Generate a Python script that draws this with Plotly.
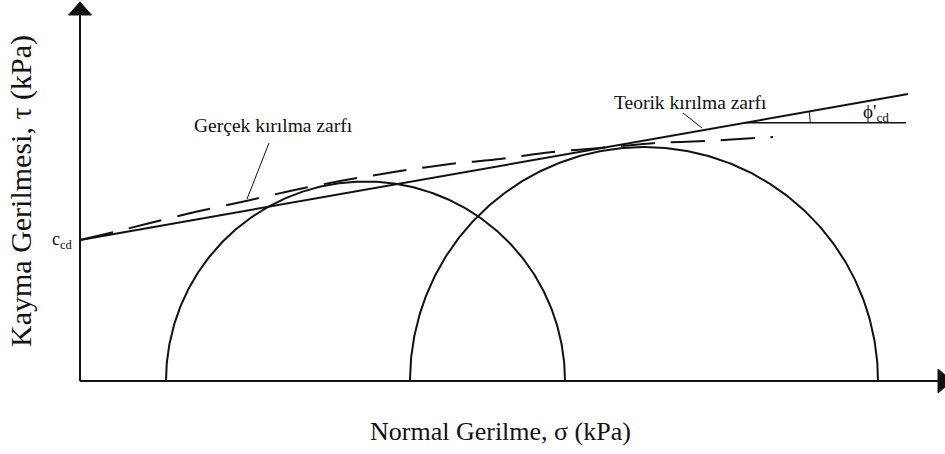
import numpy as np
import plotly.graph_objects as go

# Mohr circles (total stress at failure), in kPa
sigma3 = [86, 330]
sigma1 = [485, 798]

# Theoretical failure envelope: tau = c + sigma * tan(phi)
c_cd = 141
phi_cd_deg = 10.0
sigma_env_end = 828

# Actual (curved) failure envelope read point by point
real_sigma = [0, 30, 66, 115, 166, 210, 260, 320, 370, 420, 472, 520, 575, 627, 677, 693]
real_tau = [141, 148, 157, 169, 180, 190, 200, 210, 217, 222, 229, 233, 238, 240, 243, 244]

# Reference level of the horizontal line used to mark the friction angle
phi_ref_tau = 258.3
phi_ref_end = 826
phi_arc_r = 65

X_MIN, X_MAX = -80, 865
Y_MIN, Y_MAX = -73, 381
X_AXIS_END = 858
Y_AXIS_END = 366

INK = "#111111"
SERIF = "Liberation Serif, Times New Roman, serif"

fig = go.Figure()

# Mohr semicircles
theta = np.linspace(0, np.pi, 300)
for s3, s1 in zip(sigma3, sigma1):
    cen = (s1 + s3) / 2
    rad = (s1 - s3) / 2
    fig.add_trace(go.Scatter(
        x=cen + rad * np.cos(theta), y=rad * np.sin(theta),
        mode="lines", line=dict(color=INK, width=2), hoverinfo="skip"))

# Theoretical envelope
tan_phi = np.tan(np.radians(phi_cd_deg))
env_x = np.array([0, sigma_env_end])
fig.add_trace(go.Scatter(
    x=env_x, y=c_cd + env_x * tan_phi,
    mode="lines", line=dict(color=INK, width=2), hoverinfo="skip"))

# Actual envelope (dashed)
fig.add_trace(go.Scatter(
    x=real_sigma, y=real_tau, mode="lines",
    line=dict(color=INK, width=2, dash="34px,16px", shape="spline", smoothing=0.6),
    hoverinfo="skip"))

# Friction angle marker: horizontal reference and small arc
phi_vertex = (phi_ref_tau - c_cd) / tan_phi
fig.add_trace(go.Scatter(
    x=[phi_vertex, phi_ref_end], y=[phi_ref_tau, phi_ref_tau],
    mode="lines", line=dict(color=INK, width=1.5), hoverinfo="skip"))
arc_t = np.linspace(0, np.radians(phi_cd_deg), 30)
fig.add_trace(go.Scatter(
    x=phi_vertex + phi_arc_r * np.cos(arc_t),
    y=phi_ref_tau + phi_arc_r * np.sin(arc_t),
    mode="lines", line=dict(color=INK, width=1), hoverinfo="skip"))

shapes = []
# Axes with arrowheads
shapes.append(dict(type="line", x0=0, y0=0, x1=X_AXIS_END, y1=0,
                   line=dict(color=INK, width=2)))
shapes.append(dict(type="line", x0=0, y0=0, x1=0, y1=Y_AXIS_END,
                   line=dict(color=INK, width=2)))
shapes.append(dict(type="path",
                   path=f"M {X_AXIS_END},-12 L {X_AXIS_END + 14},0 L {X_AXIS_END},12 Z",
                   fillcolor=INK, line=dict(color=INK, width=1)))
shapes.append(dict(type="path",
                   path=f"M -11.5,{Y_AXIS_END} L 0,{Y_AXIS_END + 13} L 11.5,{Y_AXIS_END} Z",
                   fillcolor=INK, line=dict(color=INK, width=1)))
# Leader lines for the envelope labels
shapes.append(dict(type="line", x0=189, y0=238, x1=167, y1=182,
                   line=dict(color=INK, width=1)))
shapes.append(dict(type="line", x0=603, y0=268, x1=622, y1=253,
                   line=dict(color=INK, width=1)))

annotations = [
    dict(x=193, y=256, text="Gerçek kırılma zarfı", showarrow=False,
         font=dict(family=SERIF, size=19.5, color=INK)),
    dict(x=610, y=279, text="Teorik kırılma zarfı", showarrow=False,
         font=dict(family=SERIF, size=19.5, color=INK)),
    dict(x=781, y=268, text="ϕ'<sub>cd</sub>", showarrow=False, xanchor="left",
         font=dict(family=SERIF, size=19, color=INK)),
    dict(x=-5, y=141, text="c<sub>cd</sub>", showarrow=False, xanchor="right",
         font=dict(family=SERIF, size=18, color=INK)),
    dict(x=420, y=-50, text="Normal Gerilme, σ (kPa)", showarrow=False,
         font=dict(family=SERIF, size=26, color=INK)),
    dict(x=-59, y=190, text="Kayma Gerilmesi, τ (kPa)", showarrow=False,
         textangle=-90, font=dict(family=SERIF, size=30, color=INK)),
]

fig.update_layout(
    width=945, height=454,
    margin=dict(l=0, r=0, t=0, b=0),
    paper_bgcolor="white", plot_bgcolor="white",
    showlegend=False,
    xaxis=dict(range=[X_MIN, X_MAX], visible=False, fixedrange=True),
    yaxis=dict(range=[Y_MIN, Y_MAX], visible=False, fixedrange=True),
    shapes=shapes, annotations=annotations,
)

fig.write_html("out.html")
